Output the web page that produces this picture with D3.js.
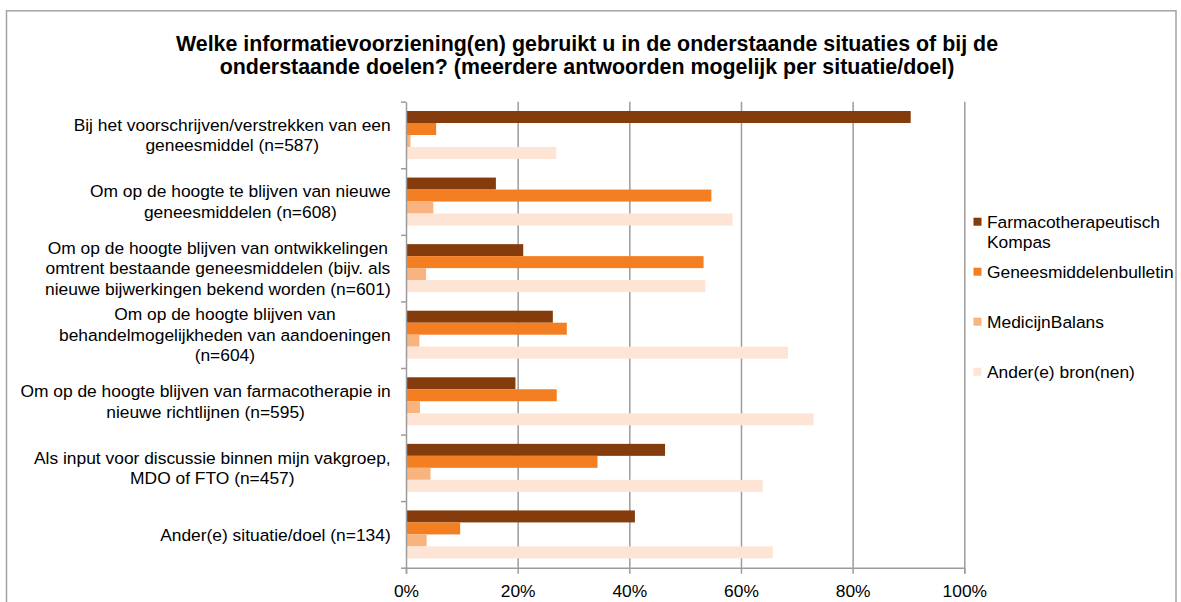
<!DOCTYPE html>
<html>
<head>
<meta charset="utf-8">
<script src="https://cdn.jsdelivr.net/npm/d3@7"></script>
<style>
	body { margin: 0; background: #fff; }
	svg { display: block; font-family: "Liberation Sans", Arial, sans-serif; }
</style>
</head>
<body>
<div class="chart"></div>
<script>
// categories (each label already split into its wrapped lines)
const categories = [
	['Bij het voorschrijven/verstrekken van een', 'geneesmiddel (n=587)'],
	['Om op de hoogte te blijven van nieuwe', 'geneesmiddelen (n=608)'],
	['Om op de hoogte blijven van ontwikkelingen', 'omtrent bestaande geneesmiddelen (bijv. als', 'nieuwe bijwerkingen bekend worden (n=601)'],
	['Om op de hoogte blijven van', 'behandelmogelijkheden van aandoeningen', '(n=604)'],
	['Om op de hoogte blijven van farmacotherapie in', 'nieuwe richtlijnen (n=595)'],
	['Als input voor discussie binnen mijn vakgroep,', 'MDO of FTO (n=457)'],
	['Ander(e) situatie/doel (n=134)']
]

const seriesNames = ['Farmacotherapeutisch Kompas', 'Geneesmiddelenbulletin', 'MedicijnBalans', 'Ander(e) bron(nen)']
const legendLines = [['Farmacotherapeutisch', 'Kompas'], ['Geneesmiddelenbulletin'], ['MedicijnBalans'], ['Ander(e) bron(nen)']]

// share per category, one array per series
const kompas = [0.904, 0.161, 0.210, 0.263, 0.196, 0.464, 0.410]
const bulletin = [0.054, 0.547, 0.533, 0.288, 0.270, 0.343, 0.097]
const medicijnBalans = [0.008, 0.049, 0.036, 0.024, 0.025, 0.044, 0.037]
const ander = [0.269, 0.585, 0.536, 0.684, 0.730, 0.639, 0.657]

const xTicks = [0, 0.2, 0.4, 0.6, 0.8, 1]

const colors = ['#843c0c', '#f47e22', '#f9b37f', '#fde4d4']

const title = ['Welke informatievoorziening(en) gebruikt u in de onderstaande situaties of bij de',
	'onderstaande doelen? (meerdere antwoorden mogelijk per situatie/doel)']

const W = 1181, H = 602
const fs = 17.4
const margin = ({ top: 101.7, left: 406, right: 964.3, bottom: 567.7 })

const svg = d3.select('.chart')
	.append('svg')
	.attr('width', W)
	.attr('height', H)

// outer chart border
svg.append('rect')
	.attr('x', 6.5).attr('y', 10.8)
	.attr('width', 1169.5).attr('height', 620)
	.attr('fill', 'none')
	.attr('stroke', '#a3a3a3')
	.attr('stroke-width', 1.5)

svg.append('g')
	.selectAll('text')
	.data(title)
	.join('text')
	.attr('x', 587)
	.attr('y', (d, i) => 51 + i * 22.7)
	.attr('text-anchor', 'middle')
	.attr('font-size', 21.4)
	.attr('font-weight', 'bold')
	.attr('fill', '#000')
	.text(d => d)

const data = categories.map((c, i) => ({
	label: c,
	values: [kompas[i], bulletin[i], medicijnBalans[i], ander[i]]
}))

const xScale = d3.scaleLinear()
	.domain([0, 1])
	.range([margin.left, margin.right])

const yScale = d3.scaleBand()
	.domain(d3.range(categories.length))
	.range([margin.top, margin.bottom])

const ySub = d3.scaleBand()
	.domain(d3.range(seriesNames.length))
	.range([0, yScale.bandwidth()])
	.paddingOuter(0.775)

// gridlines
svg.append('g')
	.attr('class', 'grid')
	.attr('transform', `translate(0, ${margin.bottom})`)
	.call(d3.axisBottom(xScale).tickValues(xTicks.slice(1)).tickSize(-(margin.bottom - margin.top)).tickFormat(''))
	.call(g => g.select('.domain').remove())
	.selectAll('line')
	.attr('stroke', '#9c9c9c')
	.attr('stroke-width', 1.5)

// bars
const groups = svg.append('g')
	.selectAll('g')
	.data(data)
	.join('g')
	.attr('transform', (d, i) => `translate(0, ${yScale(i)})`)

groups.selectAll('rect')
	.data(d => d.values)
	.join('rect')
	.attr('x', xScale(0))
	.attr('y', (d, j) => ySub(j))
	.attr('width', d => xScale(d) - xScale(0))
	.attr('height', ySub.bandwidth())
	.attr('fill', (d, j) => colors[j])

// x axis
const xAxis = svg.append('g')
	.attr('transform', `translate(0, ${margin.bottom})`)
	.call(d3.axisBottom(xScale).tickValues(xTicks).tickFormat(d3.format('.0%')).tickSize(6).tickPadding(11))
xAxis.select('.domain').attr('stroke', '#9c9c9c').attr('stroke-width', 1.5)
xAxis.selectAll('line').attr('stroke', '#9c9c9c').attr('stroke-width', 1.5)
xAxis.selectAll('text')
	.attr('font-size', fs)
	.attr('font-family', '"Liberation Sans", Arial, sans-serif')
	.attr('fill', '#000')

// y axis (ticks at band boundaries)
const yEdges = d3.scaleLinear()
	.domain([0, categories.length])
	.range([margin.top, margin.bottom])
const yAxis = svg.append('g')
	.attr('transform', `translate(${margin.left}, 0)`)
	.call(d3.axisLeft(yEdges).tickValues(d3.range(categories.length + 1)).tickFormat('').tickSize(5).tickSizeOuter(0))
yAxis.select('.domain').attr('stroke', '#9c9c9c').attr('stroke-width', 1.5)
yAxis.selectAll('line').attr('stroke', '#9c9c9c').attr('stroke-width', 1.5)

// category labels: lines centered within a right-aligned block
const lineH = 20.6
const labels = svg.append('g')
	.selectAll('g')
	.data(data)
	.join('g')

labels.each(function(d, i) {
	const g = d3.select(this)
	const n = d.label.length
	const cy = yScale(i) + yScale.bandwidth() / 2
	const texts = g.selectAll('text')
		.data(d.label)
		.join('text')
		.attr('y', (t, k) => cy + (k - (n - 1) / 2) * lineH)
		.attr('dy', '0.35em')
		.attr('font-size', fs)
		.attr('fill', '#000')
		.attr('text-anchor', 'middle')
		.text(t => t)
	let maxW = 0
	texts.each(function() { maxW = Math.max(maxW, this.getComputedTextLength()) })
	texts.attr('x', 390.7 - maxW / 2)
})

// legend
const legend = svg.append('g')
	.selectAll('g')
	.data(legendLines)
	.join('g')
	.attr('transform', (d, i) => `translate(973.5, ${221.7 + i * 50})`)

legend.append('rect')
	.attr('x', 0)
	.attr('y', -4)
	.attr('width', 8)
	.attr('height', 8)
	.attr('fill', (d, i) => colors[i])

legend.selectAll('text')
	.data(d => d)
	.join('text')
	.attr('x', 13.5)
	.attr('y', (t, k) => k * 20)
	.attr('dy', '0.35em')
	.attr('font-size', fs)
	.attr('fill', '#000')
	.text(t => t)
</script>
</body>
</html>
